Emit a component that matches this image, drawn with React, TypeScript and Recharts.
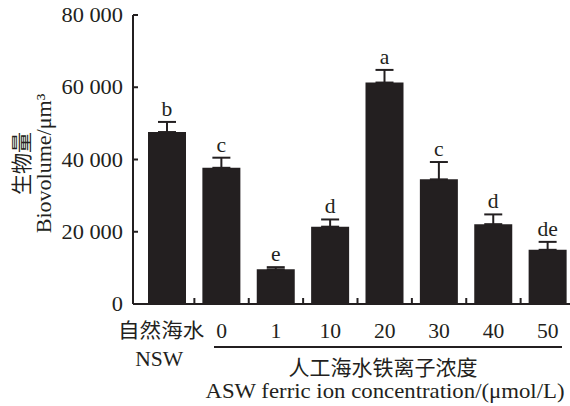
import React from 'react';
import { BarChart, Bar, XAxis, YAxis, ErrorBar, LabelList } from 'recharts';

const categories = ['NSW', '0', '1', '10', '20', '30', '40', '50'];
const categoryNames = ['自然海水', '0', '1', '10', '20', '30', '40', '50'];
const biovolume = [47600, 37700, 9600, 21400, 61300, 34500, 22100, 15000];
const errors = [2800, 2800, 600, 2000, 3500, 4800, 2700, 2200];
const letters = ['b', 'c', 'e', 'd', 'a', 'c', 'd', 'de'];
const yTicks = [0, 20000, 40000, 60000, 80000];

const data = categories.map((c, i) => ({
  name: c,
  value: biovolume[i],
  err: [0, errors[i]],
  letter: letters[i],
}));

const INK = '#231f20';
const FONT = "'Liberation Serif', 'Times New Roman', 'Noto Sans CJK SC', serif";

const fmt = (v: number) => (v === 0 ? '0' : `${Math.round(v / 1000)} 000`);

// text slightly stretched horizontally, like the printed figure
const Txt = ({ x, y, anchor = 'middle', size = 20, sx = 1.08, dy, rotate, children }: any) => (
  <g transform={`translate(${x} ${y})${rotate ? ` rotate(${rotate})` : ''} scale(${sx} 1)`}>
    <text x={0} y={0} dy={dy} textAnchor={anchor} fontSize={size} fontFamily={FONT} fill={INK}>
      {children}
    </text>
  </g>
);

const YTick = (props: any) => {
  const { x, y, payload } = props;
  return (
    <g>
      <line x1={x} x2={x + 5} y1={y} y2={y} stroke={INK} strokeWidth={2} />
      <Txt x={x - 10} y={y} anchor="end" dy="0.35em" sx={1.12}>
        {fmt(payload.value)}
      </Txt>
    </g>
  );
};

const XTick = (props: any) => {
  const { x, y, payload, index } = props;
  const half = payload.offset ?? 27;
  // the NSW label sits a little left of its bar in the original
  const lx = index === 0 ? x - 6 : x;
  return (
    <g>
      {index > 0 && (
        <line x1={x - half} x2={x - half} y1={y} y2={y - 6} stroke={INK} strokeWidth={2} />
      )}
      <Txt x={lx} y={y + 34}>{categoryNames[index]}</Txt>
      {index === 0 && <Txt x={lx - 2} y={y + 62}>NSW</Txt>}
    </g>
  );
};

const YLabel = (props: any) => {
  const cy = props.viewBox.y + props.viewBox.height / 2 + 4;
  return (
    <g>
      <Txt x={22} y={cy} rotate={-90} dy="0.35em" size={21} sx={1}>生物量</Txt>
      <Txt x={44} y={cy} rotate={-90} dy="0.35em" size={21} sx={1.05}>Biovolume/μm³</Txt>
    </g>
  );
};

const XLabel = (props: any) => {
  const { y } = props.viewBox;
  return (
    <g>
      <line x1={214} x2={562} y1={y + 43} y2={y + 43} stroke={INK} strokeWidth={2} />
      <Txt x={383} y={y + 71} size={21} sx={1}>人工海水铁离子浓度</Txt>
      <Txt x={385} y={y + 94} size={21} sx={1.085}>ASW ferric ion concentration/(μmol/L)</Txt>
    </g>
  );
};

const LetterLabel = (props: any) => {
  const { x, y, width, height, index } = props;
  const errPx = (errors[index] / biovolume[index]) * height;
  return <Txt x={x + width / 2} y={y - errPx - 6}>{letters[index]}</Txt>;
};

export default function App() {
  return (
    <div style={{ position: 'absolute', left: 0, top: 0, width: 570, height: 406, overflow: 'hidden', background: '#fff' }}>
      <BarChart width={575} height={406} data={data} margin={{ top: 15, right: 0, left: 0, bottom: 0 }} barSize={38}>
        <XAxis
          dataKey="name"
          height={102}
          padding={{ left: 7, right: 0 }}
          tickLine={false}
          tickSize={0}
          tickMargin={0}
          interval={0}
          axisLine={{ stroke: INK, strokeWidth: 2 }}
          tick={<XTick />}
          label={{ content: (p: any) => <XLabel {...p} /> }}
        />
        <YAxis
          width={133}
          domain={[0, 80000]}
          ticks={yTicks}
          tickLine={false}
          tickSize={0}
          tickMargin={0}
          axisLine={{ stroke: INK, strokeWidth: 2 }}
          tick={<YTick />}
          label={{ content: (p: any) => <YLabel {...p} /> }}
        />
        <Bar dataKey="value" fill={INK} isAnimationActive={false}>
          <ErrorBar dataKey="err" direction="y" width={9} stroke={INK} strokeWidth={2} isAnimationActive={false} />
          <LabelList dataKey="letter" content={<LetterLabel />} />
        </Bar>
      </BarChart>
    </div>
  );
}
